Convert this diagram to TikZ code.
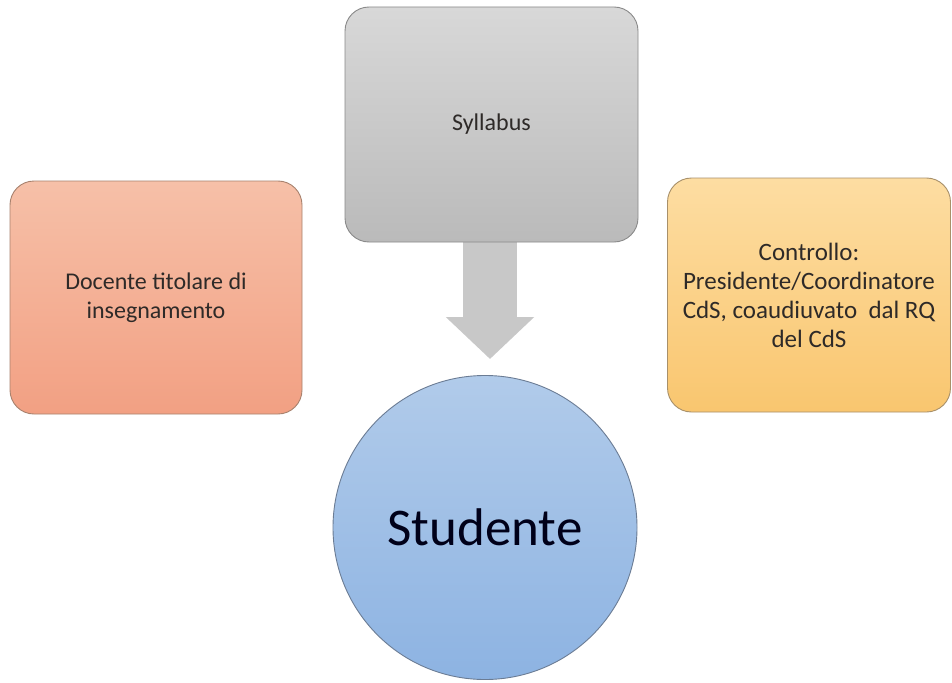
\documentclass[tikz,border=0pt]{standalone}
\usepackage{fontspec}
\setmainfont{Carlito}
\usetikzlibrary{arrows.meta}
\definecolor{txt}{HTML}{2E2A28}
\definecolor{redtop}{HTML}{F6C0A8}
\definecolor{redbot}{HTML}{F2A083}
\definecolor{redline}{HTML}{A8826E}
\definecolor{graytop}{HTML}{D8D8D8}
\definecolor{graybot}{HTML}{BABABA}
\definecolor{grayline}{HTML}{8A8A8A}
\definecolor{yeltop}{HTML}{FDDDA2}
\definecolor{yelbot}{HTML}{F9C66F}
\definecolor{yelline}{HTML}{A8906A}
\definecolor{bluetop}{HTML}{B1CBEA}
\definecolor{bluebot}{HTML}{8DB3E2}
\definecolor{blueline}{HTML}{6B7C94}
\definecolor{arrowgray}{HTML}{C8C8C8}
\tikzset{
  card/.style={rectangle, rounded corners=24pt, inner sep=0pt, line width=0.9pt,
    align=center, text=txt, font=\fontsize{24}{29.3}\selectfont},
  bigarrow/.style={arrowgray, line width=54pt,
    -{Triangle[length=42pt, width=86pt]}},
}
\begin{document}
\begin{tikzpicture}[x=1pt, y=-1pt]
\useasboundingbox (0,0) rectangle (952,682);
\fill[white] (0,0) rectangle (952,682);
% left box
\node[card, draw=redline, top color=redtop, bottom color=redbot,
  minimum width=292pt, minimum height=233pt] (doc) at (156,297.5)
  {Docente titolare di\\insegnamento};
% right box
\node[card, draw=yelline, top color=yeltop, bottom color=yelbot,
  minimum width=283pt, minimum height=234pt, font=\fontsize{25}{29}\selectfont]
  (ctrl) at (809,295)
  {Controllo:\\Presidente/Coordinatore\\CdS, coaudiuvato\ \ dal RQ\\del CdS};
% student circle
\node[circle, draw=blueline, line width=0.9pt, top color=bluetop, bottom color=bluebot,
  minimum size=304pt, inner sep=0pt, text=black!90!blue,
  font=\fontsize{53}{64}\selectfont] (stud) at (485,527.5) {Studente};
% arrow
\coordinate (tip) at (490,359);
\coordinate (start) at (490,240);
\draw[bigarrow] (start) -- (tip);
% syllabus box
\node[card, draw=grayline, top color=graytop, bottom color=graybot,
  minimum width=293pt, minimum height=235pt] (syl) at (491.5,124.5)
  {Syllabus};
\end{tikzpicture}
\end{document}
